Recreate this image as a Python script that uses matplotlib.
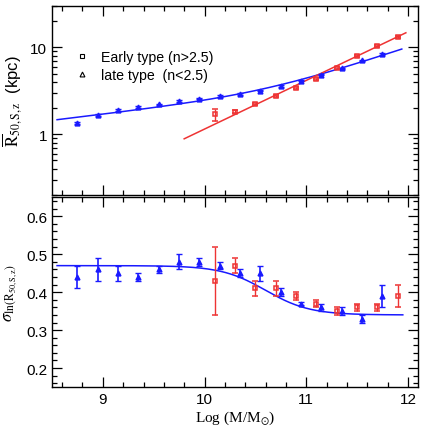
import numpy as np
import matplotlib
matplotlib.use("Agg")
import matplotlib.pyplot as plt
from matplotlib.lines import Line2D
from matplotlib.ticker import MultipleLocator, LogLocator, NullFormatter, FixedFormatter, FixedLocator

plt.rcParams['font.family'] = ['Liberation Sans', 'DejaVu Sans']
plt.rcParams['mathtext.fontset'] = 'stix'

# log stellar mass bins
late_x = [8.75, 8.95, 9.15, 9.35, 9.55, 9.75, 9.95, 10.15, 10.35, 10.55,
          10.75, 10.95, 11.15, 11.35, 11.55, 11.75]
early_x = [10.1, 10.3, 10.5, 10.7, 10.9, 11.1, 11.3, 11.5, 11.7, 11.9]

# median sizes (kpc)
late_r = [1.36, 1.65, 1.90, 2.06, 2.21, 2.41, 2.58, 2.77, 2.92, 3.19,
          3.61, 4.15, 4.86, 5.75, 7.10, 8.46]
late_r_err = [0.04, 0.04, 0.04, 0.04, 0.05, 0.05, 0.05, 0.06, 0.06, 0.08,
              0.08, 0.09, 0.1, 0.12, 0.15, 0.2]
early_r = [1.69, 1.82, 2.24, 2.75, 3.42, 4.34, 5.85, 7.89, 10.5, 13.3]
early_r_err = [0.28, 0.07, 0.07, 0.08, 0.1, 0.12, 0.15, 0.2, 0.3, 0.4]

# dispersion of ln R
late_sig = [0.44, 0.46, 0.45, 0.44, 0.46, 0.48, 0.48, 0.47, 0.45, 0.45,
            0.40, 0.37, 0.36, 0.35, 0.33, 0.39]
late_sig_err = [0.03, 0.03, 0.02, 0.01, 0.01, 0.02, 0.01, 0.01, 0.01, 0.02,
                0.01, 0.004, 0.01, 0.01, 0.01, 0.03]
early_sig = [0.43, 0.47, 0.41, 0.41, 0.39, 0.37, 0.35, 0.36, 0.36, 0.39]
early_sig_err = [0.09, 0.02, 0.02, 0.02, 0.01, 0.01, 0.01, 0.01, 0.01, 0.03]

# fit parameters
early_fit = [0.56, -5.54]            # slope, intercept of log R vs log M
late_fit = [0.14, 0.39, -1.03, 10.6]  # alpha, beta, log gamma, log M0
sig_fit = [0.47, 0.34, 10.6]          # sigma1, sigma2, log M0

BLUE = '#1a1aff'
RED = '#ee3333'

fig = plt.figure(figsize=(4.24, 4.27), dpi=100)
ax1 = fig.add_axes([0.1226, 0.541, 0.8634, 0.4426])
ax2 = fig.add_axes([0.1226, 0.0913, 0.8634, 0.4442])

# top panel
xl = np.linspace(8.55, 11.94, 200)
a, b, lg, x0 = late_fit
ax1.plot(xl, 10 ** (lg + a * xl + (b - a) * np.log10(1 + 10 ** (xl - x0))), color=BLUE, lw=1.1)
xe = np.linspace(9.8, 11.98, 50)
ax1.plot(xe, 10 ** (early_fit[0] * xe + early_fit[1]), color=RED, lw=1.1)
ax1.errorbar(late_x, late_r, yerr=late_r_err, fmt='^', ms=3.5, mfc=BLUE, mec=BLUE,
             ecolor=BLUE, elinewidth=1, capsize=2)
ax1.errorbar(early_x, early_r, yerr=early_r_err, fmt='s', ms=3.5, mfc='none', mec=RED,
             mew=1.1, ecolor=RED, elinewidth=1, capsize=2)
ax1.set_yscale('log')
ax1.set_ylim(0.2, 30)
ax1.yaxis.set_major_locator(FixedLocator([1, 10]))
ax1.yaxis.set_major_formatter(FixedFormatter(['1', '10']))
ax1.yaxis.set_minor_locator(LogLocator(base=10, subs=np.arange(2, 10)))
ax1.yaxis.set_minor_formatter(NullFormatter())
ax1.set_ylabel(r'$\overline{\rm R}_{\rm 50,S,z}$  (kpc)', fontsize=12, labelpad=4)

handles = [Line2D([], [], ls='none', marker='s', ms=3.5, mfc='none', mec='black', mew=0.8),
           Line2D([], [], ls='none', marker='^', ms=3.5, mfc='none', mec='black', mew=0.8)]
ax1.legend(handles, ['Early type (n>2.5)', 'late type  (n<2.5)'], loc='upper left',
           bbox_to_anchor=(0.025, 0.835), frameon=False, fontsize=10.2,
           handletextpad=0.7, labelspacing=0.3, handlelength=1.2)

# bottom panel
xs = np.linspace(8.55, 11.95, 200)
s1, s2, m0 = sig_fit
ax2.plot(xs, s2 + (s1 - s2) / (1 + 10 ** (2 * (xs - m0))), color=BLUE, lw=1.1)
ax2.errorbar(late_x, late_sig, yerr=late_sig_err, fmt='^', ms=3.5, mfc=BLUE, mec=BLUE,
             ecolor=BLUE, elinewidth=1.2, capsize=2.5)
ax2.errorbar(early_x, early_sig, yerr=early_sig_err, fmt='s', ms=3.5, mfc='none', mec=RED,
             mew=1.1, ecolor=RED, elinewidth=1, capsize=2.5)
ax2.set_ylim(0.15, 0.65)
ax2.yaxis.set_major_locator(MultipleLocator(0.1))
ax2.yaxis.set_minor_locator(MultipleLocator(0.02))
ax2.set_ylabel(r'$\sigma_{\rm ln(R_{50,S,z})}$', fontsize=12, labelpad=4)
ax2.set_xlabel(r'Log (M/M$_{\odot}$)', fontsize=11, family='Liberation Serif', labelpad=2)

for ax in (ax1, ax2):
    ax.set_xlim(8.5, 12.1)
    ax.xaxis.set_major_locator(MultipleLocator(1))
    ax.xaxis.set_minor_locator(MultipleLocator(0.2))
    ax.tick_params(which='both', direction='in', top=True, right=True, labelsize=11, width=0.9)
    ax.tick_params(which='major', length=7)
    ax.tick_params(which='minor', length=3.5)
    for sp in ax.spines.values():
        sp.set_linewidth(1.0)
ax1.tick_params(labelbottom=False)

fig.savefig('out.png', dpi=100)
